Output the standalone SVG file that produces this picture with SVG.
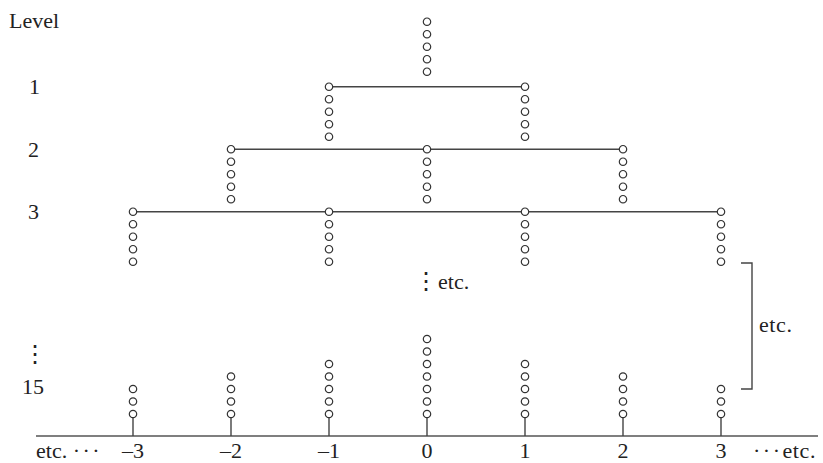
<svg xmlns="http://www.w3.org/2000/svg" xmlns:xlink="http://www.w3.org/1999/xlink" width="823" height="463" viewBox="0 0 823 463">
<style>
.t{font-family:"Liberation Serif","DejaVu Serif",serif;font-size:22px;fill:#222}
.m{text-anchor:middle}
.d{font-size:24px}
.s{letter-spacing:2.5px}
.ln{stroke:#444;stroke-width:1.4;fill:none}
.ax{stroke:#555;stroke-width:1.6;fill:none}
.c{fill:#fff;stroke:#333;stroke-width:1.2}
</style>
<defs>
<circle id="o" class="c" r="3.7"/>
</defs>
<rect width="823" height="463" fill="#fff"/>
<g id="connectors">
<line class="ln" x1="329" y1="86.7" x2="525" y2="86.7"/>
<line class="ln" x1="231" y1="149.2" x2="623" y2="149.2"/>
<line class="ln" x1="133" y1="211.7" x2="721" y2="211.7"/>
<line class="ax" x1="36" y1="436" x2="818" y2="436"/>
<g class="ln">
<line x1="133" y1="417" x2="133" y2="436"/>
<line x1="231" y1="417" x2="231" y2="436"/>
<line x1="329" y1="417" x2="329" y2="436"/>
<line x1="427" y1="417" x2="427" y2="436"/>
<line x1="525" y1="417" x2="525" y2="436"/>
<line x1="623" y1="417" x2="623" y2="436"/>
<line x1="721" y1="417" x2="721" y2="436"/>
</g>
<polyline class="ln" points="741,263 752,263 752,389 741,389"/>
</g>
<g id="top"><use href="#o" x="427" y="21.7"/><use href="#o" x="427" y="34.2"/><use href="#o" x="427" y="46.7"/><use href="#o" x="427" y="59.2"/><use href="#o" x="427" y="71.7"/></g>
<g id="l1-m1"><use href="#o" x="329" y="86.7"/><use href="#o" x="329" y="99.2"/><use href="#o" x="329" y="111.7"/><use href="#o" x="329" y="124.2"/><use href="#o" x="329" y="136.7"/></g>
<g id="l1-p1"><use href="#o" x="525" y="86.7"/><use href="#o" x="525" y="99.2"/><use href="#o" x="525" y="111.7"/><use href="#o" x="525" y="124.2"/><use href="#o" x="525" y="136.7"/></g>
<g id="l2-m2"><use href="#o" x="231" y="149.2"/><use href="#o" x="231" y="161.7"/><use href="#o" x="231" y="174.2"/><use href="#o" x="231" y="186.7"/><use href="#o" x="231" y="199.2"/></g>
<g id="l2-0"><use href="#o" x="427" y="149.2"/><use href="#o" x="427" y="161.7"/><use href="#o" x="427" y="174.2"/><use href="#o" x="427" y="186.7"/><use href="#o" x="427" y="199.2"/></g>
<g id="l2-p2"><use href="#o" x="623" y="149.2"/><use href="#o" x="623" y="161.7"/><use href="#o" x="623" y="174.2"/><use href="#o" x="623" y="186.7"/><use href="#o" x="623" y="199.2"/></g>
<g id="l3-m3"><use href="#o" x="133" y="211.7"/><use href="#o" x="133" y="224.2"/><use href="#o" x="133" y="236.7"/><use href="#o" x="133" y="249.2"/><use href="#o" x="133" y="261.7"/></g>
<g id="l3-m1"><use href="#o" x="329" y="211.7"/><use href="#o" x="329" y="224.2"/><use href="#o" x="329" y="236.7"/><use href="#o" x="329" y="249.2"/><use href="#o" x="329" y="261.7"/></g>
<g id="l3-p1"><use href="#o" x="525" y="211.7"/><use href="#o" x="525" y="224.2"/><use href="#o" x="525" y="236.7"/><use href="#o" x="525" y="249.2"/><use href="#o" x="525" y="261.7"/></g>
<g id="l3-p3"><use href="#o" x="721" y="211.7"/><use href="#o" x="721" y="224.2"/><use href="#o" x="721" y="236.7"/><use href="#o" x="721" y="249.2"/><use href="#o" x="721" y="261.7"/></g>
<g id="b-m3"><use href="#o" x="133" y="389"/><use href="#o" x="133" y="401.5"/><use href="#o" x="133" y="414"/></g>
<g id="b-m2"><use href="#o" x="231" y="376.5"/><use href="#o" x="231" y="389"/><use href="#o" x="231" y="401.5"/><use href="#o" x="231" y="414"/></g>
<g id="b-m1"><use href="#o" x="329" y="364"/><use href="#o" x="329" y="376.5"/><use href="#o" x="329" y="389"/><use href="#o" x="329" y="401.5"/><use href="#o" x="329" y="414"/></g>
<g id="b-0"><use href="#o" x="427" y="339"/><use href="#o" x="427" y="351.5"/><use href="#o" x="427" y="364"/><use href="#o" x="427" y="376.5"/><use href="#o" x="427" y="389"/><use href="#o" x="427" y="401.5"/><use href="#o" x="427" y="414"/></g>
<g id="b-p1"><use href="#o" x="525" y="364"/><use href="#o" x="525" y="376.5"/><use href="#o" x="525" y="389"/><use href="#o" x="525" y="401.5"/><use href="#o" x="525" y="414"/></g>
<g id="b-p2"><use href="#o" x="623" y="376.5"/><use href="#o" x="623" y="389"/><use href="#o" x="623" y="401.5"/><use href="#o" x="623" y="414"/></g>
<g id="b-p3"><use href="#o" x="721" y="389"/><use href="#o" x="721" y="401.5"/><use href="#o" x="721" y="414"/></g>
<g id="labels">
<text class="t" x="9" y="28">Level</text>
<text class="t" x="29" y="94">1</text>
<text class="t" x="28" y="157">2</text>
<text class="t" x="28" y="219">3</text>
<text class="t" x="23" y="362"><tspan class="d">⋮</tspan></text>
<text class="t" x="22" y="394">15</text>
<text class="t" x="414" y="289"><tspan class="d">⋮</tspan>etc.</text>
<text class="t" x="759" y="332" letter-spacing="0.6">etc.</text>
<text class="t" x="36" y="458">etc. <tspan class="s">···</tspan></text>
<text class="t m" x="133" y="458">–3</text>
<text class="t m" x="231" y="458">–2</text>
<text class="t m" x="329" y="458">–1</text>
<text class="t m" x="427" y="458">0</text>
<text class="t m" x="525" y="458">1</text>
<text class="t m" x="623" y="458">2</text>
<text class="t m" x="721" y="458">3</text>
<text class="t" x="753" y="458"><tspan class="s">···</tspan><tspan letter-spacing="0.6">etc.</tspan></text>
</g>
</svg>
